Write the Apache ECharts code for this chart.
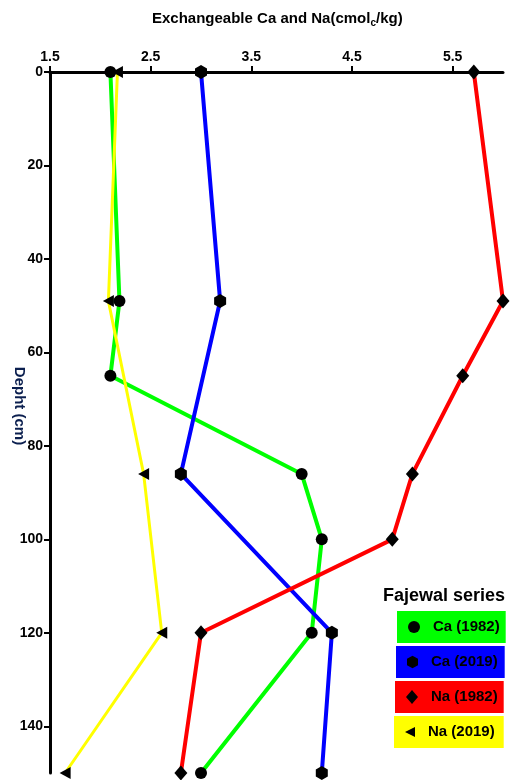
<!DOCTYPE html>
<html>
<head>
<meta charset="utf-8">
<script src="https://cdn.jsdelivr.net/npm/echarts@6/dist/echarts.min.js"></script>
<style>
html,body{margin:0;padding:0;background:#fff;}
#chart{width:513px;height:780px;}
</style>
</head>
<body>
<div id="chart"></div>
<script>
var depths = [0, 49, 65, 86, 100, 120, 150];
var ca1982 = [2.10, 2.19, 2.10, 4.00, 4.20, 4.10, 3.00];
var ca2019 = [3.00, 3.19, null, 2.80, null, 4.30, 4.20];
var na1982 = [5.71, 6.00, 5.60, 5.10, 4.90, 3.00, 2.80];
var na2019 = [2.17, 2.08, null, 2.43, null, 2.61, 1.65];
var seriesNames = ['Ca (1982)', 'Ca (2019)', 'Na (1982)', 'Na (2019)'];
var xTicks = [1.5, 2.5, 3.5, 4.5, 5.5];
var yTicks = [0, 20, 40, 60, 80, 100, 120, 140];

function pairs(vals) {
  var out = [];
  for (var i = 0; i < depths.length; i++) {
    if (vals[i] !== null) out.push([vals[i], depths[i]]);
  }
  return out;
}

var FONT = '"Liberation Sans", Arial, sans-serif';
var hex = 'path://M0,-1 L0.87,-0.5 L0.87,0.5 L0,1 L-0.87,0.5 L-0.87,-0.5 Z';
var leftTri = 'path://M0,5 L10,0 L10,10 Z';
var colors = ['#00ff00', '#0000ff', '#ff0000', '#ffff00'];
var symbols = ['circle', hex, 'diamond', leftTri];
var symSizes = [12, [12, 14], [13, 15], [11, 12]];
var legSizes = [[12, 12], [11, 13], [12, 14], [10, 11]];
var rightPads = [6, 7, 6, 9];
var widths = [4, 4, 4, 3];
var datasets = [ca1982, ca2019, na1982, na2019];
var legendBox = [[397, 611], [396, 646], [395, 681], [394, 716]];

var series = [];
var legends = [];
for (var k = 0; k < 4; k++) {
  series.push({
    name: seriesNames[k],
    type: 'line',
    data: pairs(datasets[k]),
    symbol: symbols[k],
    symbolSize: symSizes[k],
    itemStyle: {color: '#000'},
    lineStyle: {color: colors[k], width: widths[k]},
    animation: false
  });
  legends.push({
    left: legendBox[k][0],
    top: legendBox[k][1],
    orient: 'horizontal',
    backgroundColor: colors[k],
    padding: [8, rightPads[k], 8, 11],
    itemWidth: legSizes[k][0],
    itemHeight: legSizes[k][1],
    selectedMode: false,
    data: [{name: seriesNames[k], icon: symbols[k], itemStyle: {color: '#000'}}],
    textStyle: {fontFamily: FONT, fontWeight: 'bold', fontSize: 15, color: '#000', lineHeight: 16, padding: [0, 0, 0, 8]}
  });
}

var chart = echarts.init(document.getElementById('chart'), null, {renderer: 'canvas'});
chart.setOption({
  animation: false,
  backgroundColor: '#fff',
  title: [{
    text: '{a|Exchangeable Ca and Na(cmol}{s|c}{a|/kg)}',
    left: 152,
    top: 9,
    padding: 0,
    textStyle: {
      rich: {
        a: {fontFamily: FONT, fontWeight: 'bold', fontSize: 15, color: '#000'},
        s: {fontFamily: FONT, fontWeight: 'bold', fontSize: 10, color: '#000', verticalAlign: 'bottom', padding: [9, 0, 0, 0]}
      }
    }
  }, {
    text: 'Fajewal series',
    left: 383,
    top: 587,
    padding: 0,
    textStyle: {fontFamily: FONT, fontWeight: 'bold', fontSize: 18, color: '#000'}
  }],
  graphic: [{
    type: 'text',
    x: 19,
    y: 406,
    rotation: -Math.PI / 2,
    style: {
      text: 'Depht (cm)',
      font: 'bold 15px ' + FONT,
      fill: '#0b1f4f',
      align: 'center',
      verticalAlign: 'middle'
    }
  }],
  grid: {left: 50, right: 10, top: 72, bottom: 7, containLabel: false},
  xAxis: {
    type: 'value',
    position: 'top',
    min: 1.5,
    max: 6.0,
    splitLine: {show: false},
    axisLine: {show: true, onZero: false, lineStyle: {color: '#000', width: 3}},
    axisTick: {show: true, customValues: xTicks, length: 6, lineStyle: {color: '#000', width: 2}},
    axisLabel: {customValues: xTicks, fontFamily: FONT, fontWeight: 'bold', fontSize: 14, color: '#000', margin: 8,
      formatter: function (v) { return v.toFixed(1); }}
  },
  yAxis: {
    type: 'value',
    inverse: true,
    min: 0,
    max: 150,
    splitLine: {show: false},
    axisLine: {show: true, onZero: false, lineStyle: {color: '#000', width: 3}},
    axisTick: {show: true, customValues: yTicks, length: 6, lineStyle: {color: '#000', width: 2}},
    axisLabel: {customValues: yTicks, fontFamily: FONT, fontWeight: 'bold', fontSize: 14, color: '#000', margin: 7}
  },
  legend: legends,
  series: series
});
</script>
</body>
</html>
